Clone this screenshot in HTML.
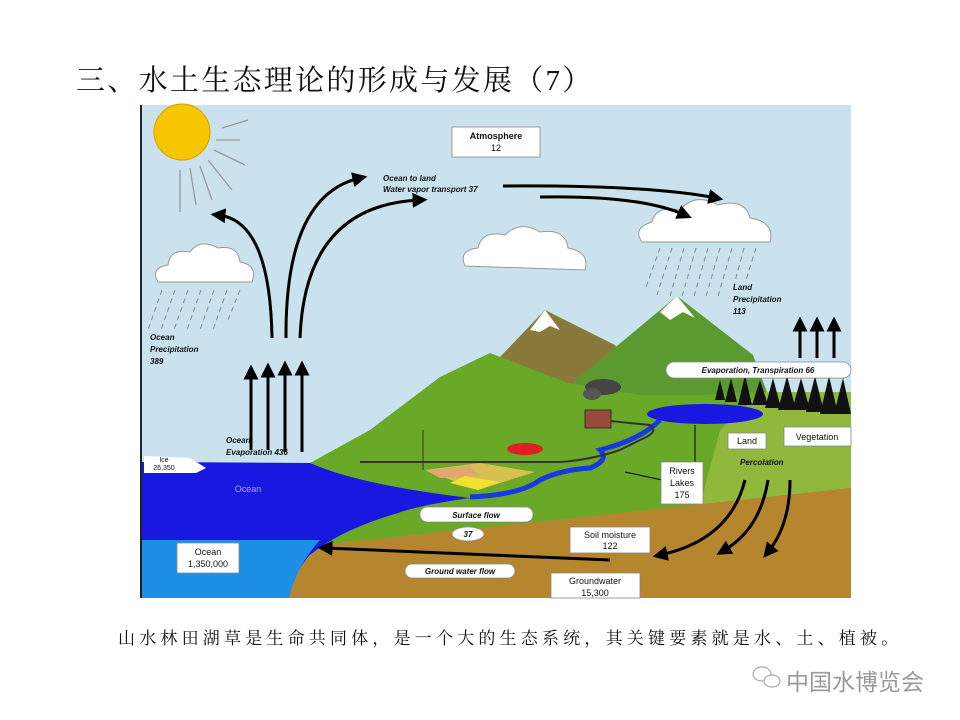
<!DOCTYPE html>
<html><head><meta charset="utf-8"><style>
html,body{margin:0;padding:0;background:#fff;width:960px;height:720px;overflow:hidden;position:relative}
.t{position:absolute;left:76px;top:58px;font-family:"Liberation Serif","Noto Serif CJK SC",serif;font-size:29px;color:#111;white-space:nowrap;letter-spacing:2.3px}
.c{position:absolute;left:118px;top:624px;font-family:"Liberation Serif","Noto Serif CJK SC",serif;font-size:17px;color:#111;white-space:nowrap;letter-spacing:4.2px}
.w{position:absolute;left:786px;top:663px;font-family:"Liberation Sans","Noto Sans CJK SC",sans-serif;font-size:23px;color:#999;white-space:nowrap}
svg{position:absolute;left:0;top:0}
</style></head><body>
<div class="t">三、水土生态理论的形成与发展（7）</div>
<svg width="960" height="720" viewBox="0 0 960 720" font-family="Liberation Sans, sans-serif">
<defs><marker id="a" markerWidth="5" markerHeight="5" refX="2.5" refY="2.5" orient="auto"><path d="M0,0 L5,2.5 L0,5 z" fill="#000"/></marker></defs>
<rect x="142" y="105" width="709" height="493" fill="#c9e2ee"/>
<line x1="141" y1="105" x2="141" y2="598" stroke="#222" stroke-width="2"/>
<circle cx="182" cy="132" r="28" fill="#f7c600" stroke="#d8a000"/>
<g stroke="#999" stroke-width="1.3">
<line x1="216" y1="140" x2="240" y2="140"/><line x1="214" y1="150" x2="245" y2="165"/><line x1="208" y1="160" x2="232" y2="190"/><line x1="200" y1="166" x2="212" y2="200"/><line x1="190" y1="168" x2="196" y2="205"/><line x1="180" y1="170" x2="180" y2="212"/><line x1="222" y1="128" x2="248" y2="120"/>
</g>
<polygon points="500,357 545,310 615,345 640,390 500,395" fill="#8a7a3a"/>
<polygon points="530,330 545,310 560,330 550,326 540,332" fill="#fff"/>
<polygon points="570,385 677,296 753,355 770,400 580,410" fill="#5a9a30"/>
<polygon points="660,312 677,296 695,318 683,312 670,320" fill="#fff"/>
<polygon points="260,598 260,500 310,463 370,430 440,377 490,353 568,383 640,395 700,395 760,392 851,392 851,490 320,545" fill="#6aa828"/>
<polygon points="760,392 851,392 851,490 700,505 720,430" fill="#8fb83c"/>
<polygon points="320,545 851,488 851,598 270,598" fill="#b5862e"/>
<path d="M142,462 L310,463 Q360,485 470,498 Q420,505 398,513 Q340,530 310,555 Q292,575 289,598 L142,598 Z" fill="#1818e0"/>
<path d="M142,540 L320,540 Q297,565 289,598 L142,598 Z" fill="#1e8fe6"/>
<polygon points="144,456 190,458 206,468 196,473 144,473" fill="#fff"/>
<path d="M470,497 Q520,495 540,480 Q560,470 590,468 Q610,460 600,450 Q640,440 660,420" stroke="#1838e0" stroke-width="5" fill="none"/>
<ellipse cx="705" cy="414" rx="58" ry="10" fill="#1818e0"/>
<path d="M360,462 L560,462 Q590,460 620,450 L640,440 Q660,432 650,425 L600,420" stroke="#333" stroke-width="2" fill="none"/>
<g fill="#111">
<polygon points="715,400 720,380 725,400"/><polygon points="725,402 731,378 737,402"/><polygon points="738,405 745,375 752,405"/><polygon points="752,405 760,380 768,405"/><polygon points="765,408 773,378 781,408"/><polygon points="778,410 787,376 796,410"/><polygon points="792,410 801,378 810,410"/><polygon points="806,412 815,376 824,412"/><polygon points="820,414 829,376 838,414"/><polygon points="834,414 843,378 851,414"/>
</g>
<rect x="585" y="410" width="26" height="18" fill="#9a4a3a" stroke="#333"/>
<ellipse cx="603" cy="387" rx="18" ry="8" fill="#444"/><ellipse cx="592" cy="394" rx="9" ry="6" fill="#555"/>
<ellipse cx="525" cy="449" rx="18" ry="6" fill="#e02020"/>
<polygon points="425,470 480,463 535,472 478,490" fill="#d8c050"/>
<polygon points="425,470 470,466 480,476 440,478" fill="#e0a870"/>
<polygon points="450,483 478,490 500,482 465,476" fill="#f0e030"/>
<line x1="423" y1="430" x2="423" y2="470" stroke="#333"/>
<g fill="#fff" stroke="#999" stroke-width="1">
<path d="M158,282 Q150,268 168,265 Q170,248 190,252 Q200,238 218,248 Q238,245 240,262 Q258,265 252,282 Z"/>
<path d="M465,266 Q458,250 478,248 Q482,230 505,235 Q520,220 540,232 Q565,228 568,248 Q590,252 585,270 Z"/>
<path d="M642,242 Q632,228 652,222 Q656,205 680,210 Q695,192 718,205 Q745,198 750,218 Q775,222 770,242 Z"/>
</g>
<g stroke="#888" stroke-width="1" stroke-dasharray="5,4">
<line x1="162" y1="290" x2="148" y2="330"/><line x1="175" y1="290" x2="161" y2="330"/><line x1="188" y1="290" x2="174" y2="330"/><line x1="201" y1="290" x2="187" y2="330"/><line x1="214" y1="290" x2="200" y2="330"/><line x1="227" y1="290" x2="213" y2="330"/><line x1="240" y1="290" x2="228" y2="320"/>
<line x1="660" y1="248" x2="645" y2="290"/><line x1="672" y1="248" x2="657" y2="295"/><line x1="684" y1="248" x2="669" y2="300"/><line x1="696" y1="248" x2="681" y2="300"/><line x1="708" y1="248" x2="693" y2="300"/><line x1="720" y1="248" x2="705" y2="300"/><line x1="732" y1="248" x2="717" y2="300"/><line x1="744" y1="248" x2="734" y2="285"/><line x1="756" y1="248" x2="746" y2="280"/>
</g>
<g stroke="#000" stroke-width="3" fill="none" marker-end="url(#a)">
<line x1="251" y1="450" x2="251" y2="372"/><line x1="268" y1="450" x2="268" y2="370"/><line x1="285" y1="452" x2="285" y2="368"/><line x1="302" y1="452" x2="302" y2="368"/>
<path d="M272,338 Q270,220 218,215"/>
<path d="M286,338 Q285,195 360,178"/>
<path d="M300,338 Q305,205 420,200"/>
<path d="M503,186 Q650,185 716,198"/>
<path d="M540,197 Q640,195 685,215"/>
<line x1="800" y1="358" x2="800" y2="324"/><line x1="817" y1="358" x2="817" y2="324"/><line x1="834" y1="358" x2="834" y2="324"/>
<path d="M610,560 L325,548"/>
<path d="M745,480 Q730,540 660,555"/>
<path d="M768,480 Q760,530 723,551"/>
<path d="M790,480 Q790,525 768,552"/>
</g>
<g stroke="#000" stroke-width="1" fill="none">
<line x1="662" y1="480" x2="625" y2="472"/><line x1="695" y1="463" x2="695" y2="425"/>
</g>
<g font-size="8" font-style="italic" font-weight="bold" fill="#111">
<text x="150" y="340">Ocean</text><text x="150" y="352">Precipitation</text><text x="150" y="364">389</text>
<text x="226" y="443">Ocean</text><text x="226" y="455">Evaporation 436</text>
<text x="383" y="181">Ocean to land</text><text x="383" y="192">Water vapor transport 37</text>
<text x="733" y="290">Land</text><text x="733" y="302">Precipitation</text><text x="733" y="314">113</text>
<text x="740" y="465">Percolation</text>
</g>
<g fill="#fff" stroke="#888" stroke-width="0.8">
<rect x="452" y="127" width="88" height="30"/>
<rect x="666" y="362" width="185" height="16" rx="8"/>
<rect x="728" y="433" width="38" height="16"/>
<rect x="784" y="427" width="67" height="19"/>
<rect x="661" y="462" width="42" height="42"/>
<rect x="420" y="507" width="113" height="15" rx="7"/>
<ellipse cx="468" cy="534" rx="16" ry="7"/>
<rect x="570" y="527" width="80" height="26"/>
<rect x="405" y="564" width="110" height="14" rx="7"/>
<rect x="551" y="573" width="89" height="25"/>
<rect x="177" y="543" width="62" height="30"/>
</g>
<g font-size="9" fill="#111" text-anchor="middle">
<text x="496" y="139" font-weight="bold">Atmosphere</text><text x="496" y="151">12</text>
<text x="747" y="444">Land</text><text x="817" y="440">Vegetation</text>
<text x="682" y="474">Rivers</text><text x="682" y="486">Lakes</text><text x="682" y="498">175</text>
<text x="610" y="538">Soil moisture</text><text x="610" y="549">122</text>
<text x="595" y="584">Groundwater</text><text x="595" y="596">15,300</text>
<text x="208" y="555">Ocean</text><text x="208" y="567">1,350,000</text>
<text x="164" y="462" font-size="7">Ice</text><text x="164" y="470" font-size="7">26,350</text>
<text x="248" y="492" fill="#b0a0ff">Ocean</text>
</g>
<g font-size="8" font-style="italic" font-weight="bold" fill="#111" text-anchor="middle">
<text x="758" y="373">Evaporation, Transpiration 66</text>
<text x="476" y="518">Surface flow</text><text x="468" y="537">37</text>
<text x="460" y="574">Ground water flow</text>
</g>
<g stroke="#aaa" fill="none" stroke-width="1.2"><ellipse cx="762" cy="674" rx="9" ry="7"/><ellipse cx="772" cy="681" rx="8" ry="6" fill="#fff"/></g>
</svg>
<div class="c">山水林田湖草是生命共同体，是一个大的生态系统，其关键要素就是水、土、植被。</div>
<div class="w">中国水博览会</div>
</body></html>
